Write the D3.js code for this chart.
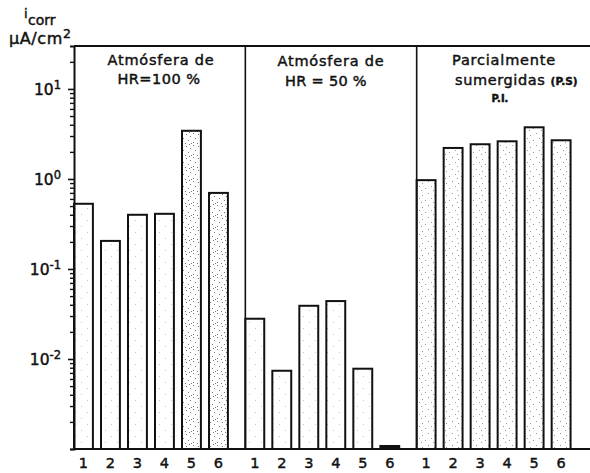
<!DOCTYPE html>
<html><head><meta charset="utf-8">
<script src="https://cdn.jsdelivr.net/npm/d3@7"></script>
<style>body{margin:0;background:#fff} svg{display:block} text{stroke:#111;stroke-width:0.45px}</style>
</head><body>
<svg id="c" width="590" height="473"></svg>
<script>
// ---- data ----
const panels = ["HR100", "HR50", "PS"];
const categories = ["1", "2", "3", "4", "5", "6"];
const valuesHR100 = [0.53, 0.205, 0.40, 0.41, 3.43, 0.70];
const valuesHR50 = [0.028, 0.0074, 0.039, 0.044, 0.0078, 0.00108];
const valuesPS = [0.97, 2.21, 2.43, 2.62, 3.75, 2.69];
const majorTicks = [0.01, 0.1, 1, 10];
const majorTickBase = ["10", "10", "10", "10"];
const majorTickExp = ["-2", "-1", "0", "1"];
const titleHR100 = ["Atmósfera de", "HR=100 %"];
const titleHR50 = ["Atmósfera de", "HR = 50 %"];
const titlePS = ["Parcialmente", "sumergidas", "(P.S)", "P.I."];

const series = [valuesHR100, valuesHR50, valuesPS];

// ---- styling (not data) ----
const stipple = [["s","s","s","s","d","d"], ["s","s","s","s","s","k"], ["m","m","m","m","m","m"]];
const FONT = "DejaVu Sans, sans-serif";

const svg = d3.select("#c");
const defs = svg.append("defs");
function makePattern(id, dots, col) {
  const p = defs.append("pattern").attr("id", id).attr("patternUnits", "userSpaceOnUse")
    .attr("width", 12).attr("height", 12);
  p.append("rect").attr("width", 12).attr("height", 12).attr("fill", "#fff");
  dots.forEach(([a, b]) => p.append("rect").attr("x", a).attr("y", b).attr("width", 1).attr("height", 1).attr("fill", col));
}
makePattern("s", [[3, 4], [9, 10]], "#c4c4c4");
makePattern("m", [[2, 3], [8, 1], [5, 8], [11, 6], [1, 10]], "#9a9a9a");
makePattern("d", [[1, 1], [6, 2], [10, 4], [3, 6], [8, 8], [1, 10], [5, 11], [11, 11], [9, 0]], "#777");
makePattern("k", [], "#111");
defs.select("#k rect").attr("fill", "#111");

const x0 = 74, x1 = 590, yTop = 46, yBot = 449;
const y = d3.scaleLog().domain([1e-3, 30]).range([yBot, yTop]);
const xp = d3.scaleBand().domain(panels).range([x0, 588]);

// panels
panels.forEach((p, pi) => {
  const start = xp(p);
  const xb = d3.scaleBand().domain(categories).range([start, start + 162])
    .paddingInner(0.3).paddingOuter(0.15).align(0);
  const g = svg.append("g");
  g.selectAll("rect").data(series[pi]).join("rect")
    .attr("x", (d, i) => xb(categories[i]))
    .attr("width", xb.bandwidth())
    .attr("y", d => y(d))
    .attr("height", d => y(1e-3) - y(d))
    .attr("fill", (d, i) => `url(#${stipple[pi][i]})`)
    .attr("stroke", "#111").attr("stroke-width", 2);
  // x labels
  const ax = d3.axisBottom(xb).tickSize(0).tickPadding(9);
  const ag = svg.append("g").attr("transform", `translate(0,${yBot})`).call(ax);
  ag.select(".domain").remove();
  ag.selectAll("text").attr("font-family", FONT).attr("font-size", 14.5).attr("fill", "#111");
  // divider
  if (pi > 0) svg.append("line").attr("x1", start).attr("x2", start).attr("y1", yTop).attr("y2", yBot)
    .attr("stroke", "#111").attr("stroke-width", 1.6);
});

// frame lines
svg.append("line").attr("x1", x0).attr("x2", x1).attr("y1", yTop).attr("y2", yTop).attr("stroke", "#111").attr("stroke-width", 1.8);
svg.append("line").attr("x1", x0).attr("x2", x1).attr("y1", yBot).attr("y2", yBot).attr("stroke", "#111").attr("stroke-width", 2);

// y axis: minor ticks
const minor = y.ticks().filter(v => !majorTicks.some(m => Math.abs(m - v) / m < 1e-6) && v < 29);
const ayMinor = d3.axisLeft(y).tickValues(minor).tickSize(4).tickFormat("");
const gy = svg.append("g").attr("transform", `translate(${x0},0)`).call(ayMinor);
gy.select(".domain").attr("stroke-width", 2).attr("stroke", "#111");
gy.selectAll(".tick line").attr("stroke-width", 1.4).attr("stroke", "#111");
const ayMajor = d3.axisLeft(y).tickValues(majorTicks).tickSize(6).tickFormat("");
const gy2 = svg.append("g").attr("transform", `translate(${x0},0)`).call(ayMajor);
gy2.select(".domain").remove();
gy2.selectAll(".tick line").attr("stroke-width", 1.6).attr("stroke", "#111");
gy2.selectAll(".tick").each(function (d, i) {
  const t = d3.select(this).append("text").attr("x", -13).attr("dy", "0.35em")
    .attr("text-anchor", "end").attr("font-family", FONT).attr("font-size", 15.5).attr("fill", "#111");
  t.append("tspan").text(majorTickBase[i]);
  t.append("tspan").attr("dy", "-0.55em").attr("font-size", 11.5).text(majorTickExp[i]);
});

// y label
svg.append("text").attr("x", 24).attr("y", 18).attr("font-family", FONT).attr("font-size", 13).attr("fill", "#111").text("i");
svg.append("text").attr("x", 28).attr("y", 25).attr("font-family", FONT).attr("font-size", 14).attr("fill", "#111").text("corr");
const yl2 = svg.append("text").attr("x", 9).attr("y", 44).attr("font-family", FONT).attr("font-size", 16)
  .attr("letter-spacing", 0.6).attr("fill", "#111");
yl2.append("tspan").text("μA/cm");
yl2.append("tspan").attr("dy", "-0.5em").attr("font-size", 12.5).text("2");

// titles
function title(txt, cx, yy, size, weight, ls) {
  return svg.append("text").attr("x", cx).attr("y", yy).attr("text-anchor", "middle")
    .attr("font-family", FONT).attr("font-size", size).attr("font-weight", weight || "normal")
    .attr("letter-spacing", ls || 0).attr("fill", "#111").text(txt);
}
title(titleHR100[0], 161, 65, 14.5, null, 0.8);
title(titleHR100[1], 159, 84, 14.5, null, 0.5);
title(titleHR50[0], 331, 66, 14.5, null, 0.8);
title(titleHR50[1], 326, 86, 14.5, null, 0.3);
title(titlePS[0], 504, 65, 14.5, null, 0.8);
const ps = svg.append("text").attr("x", 455).attr("y", 85).attr("font-family", FONT).attr("font-size", 14.5)
  .attr("letter-spacing", 0.6).attr("fill", "#111");
ps.append("tspan").text(titlePS[1] + " ");
ps.append("tspan").attr("font-size", 10.5).attr("font-weight", "bold").attr("letter-spacing", 0).text(titlePS[2]);
title(titlePS[3], 500, 102, 10, "bold");
</script>
</body></html>
